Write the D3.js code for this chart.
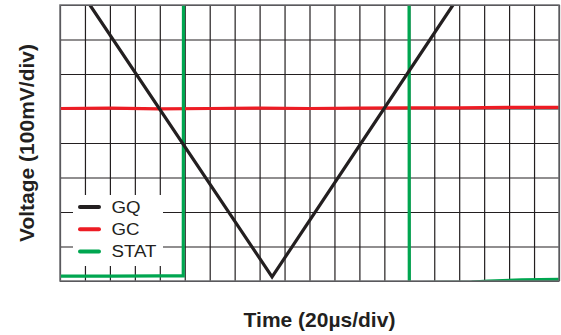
<!DOCTYPE html>
<html>
<head>
<meta charset="utf-8">
<script src="https://cdn.jsdelivr.net/npm/d3@7"></script>
<style>
  html, body { margin: 0; padding: 0; background: #fff; }
  svg { display: block; }
  text { font-family: "Liberation Sans", Arial, sans-serif; fill: #231f20; }
</style>
</head>
<body>
<svg id="chart" width="561" height="335"></svg>
<script>
// Scope capture: 20 µs/div horizontally, 100 mV/div vertically
const timeDivs = d3.range(0, 401, 20);      // µs
const voltDivs = d3.range(0, 801, 100);     // mV

const seriesNames = ["GQ", "GC", "STAT"];
const seriesColors = ["#231f20", "#ed1c24", "#00a650"];

// [time µs, voltage mV]
const gqTrace = [[24, 800], [170, 12], [315, 800]];
const gcTrace = [[0, 500], [40, 501], [80, 499], [120, 500], [160, 501], [200, 500],
                 [240, 501], [280, 502], [320, 502], [360, 503], [400, 503]];
const statTrace = [[0, 14], [40, 14], [80, 15], [98.8, 15], [99, 900], [279.8, 900],
                   [280, -5], [330, -3], [343, 0], [370, 3], [400, 5]];

const traces = [gqTrace, gcTrace, statTrace];

const svg = d3.select("#chart");
const plotLeft = 60, plotRight = 559, plotTop = 5, plotBottom = 281;

const x = d3.scaleLinear().domain([0, 400]).range([plotLeft, plotRight]);
const y = d3.scaleLinear().domain([0, 800]).range([plotBottom, plotTop]);

// Grid from axes with full-length ticks
const gx = svg.append("g")
  .attr("transform", `translate(0,${plotBottom})`)
  .call(d3.axisBottom(x).tickValues(timeDivs).tickSize(-(plotBottom - plotTop)).tickFormat(""));
const gy = svg.append("g")
  .attr("transform", `translate(${plotLeft},0)`)
  .call(d3.axisLeft(y).tickValues(voltDivs).tickSize(-(plotRight - plotLeft)).tickFormat(""));
[gx, gy].forEach(g => {
  g.select(".domain").remove();
  g.selectAll(".tick line").attr("stroke", "#231f20").attr("stroke-width", 1.2);
});

svg.append("clipPath").attr("id", "plot-clip")
  .append("rect").attr("x", plotLeft).attr("y", plotTop)
  .attr("width", plotRight - plotLeft).attr("height", plotBottom - plotTop);

const line = d3.line().x(d => x(d[0])).y(d => y(d[1]));

const plot = svg.append("g").attr("clip-path", "url(#plot-clip)");
// draw order: red, green, black on top
[1, 2, 0].forEach(i => {
  plot.append("path")
    .datum(traces[i])
    .attr("d", line)
    .attr("fill", "none")
    .attr("stroke", seriesColors[i])
    .attr("stroke-width", 3.2)
    .attr("stroke-linejoin", "miter");
});

// Frame
svg.append("rect")
  .attr("x", plotLeft).attr("y", plotTop)
  .attr("width", plotRight - plotLeft).attr("height", plotBottom - plotTop)
  .attr("fill", "none").attr("stroke", "#6d6e71").attr("stroke-width", 1.5);

// Legend
const legend = svg.append("g");
legend.append("rect")
  .attr("x", 73).attr("y", 195).attr("width", 90).attr("height", 71)
  .attr("fill", "#fff");
seriesNames.forEach((name, i) => {
  const cy = 207 + i * 22.2;
  legend.append("line")
    .attr("x1", 80).attr("x2", 99).attr("y1", cy).attr("y2", cy)
    .attr("stroke", seriesColors[i]).attr("stroke-width", 4)
    .attr("stroke-linecap", "round");
  legend.append("text")
    .attr("transform", `translate(111.5,${cy + 6}) scale(1.1,1)`)
    .attr("font-size", 17)
    .text(name);
});

// Axis titles
svg.append("text")
  .attr("x", 319.5).attr("y", 326.5)
  .attr("text-anchor", "middle")
  .attr("font-size", 21).attr("font-weight", "bold")
  .text("Time (20µs/div)");

svg.append("text")
  .attr("transform", "translate(33.5,143) rotate(-90)")
  .attr("text-anchor", "middle")
  .attr("font-size", 21).attr("font-weight", "bold")
  .text("Voltage (100mV/div)");
</script>
</body>
</html>
